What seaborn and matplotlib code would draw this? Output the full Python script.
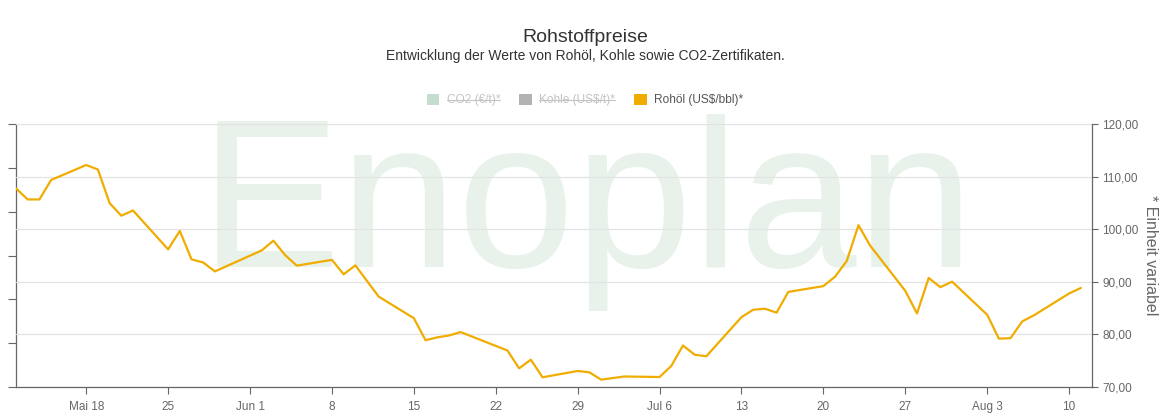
import pandas as pd
import seaborn as sns
import matplotlib.pyplot as plt
from matplotlib.patches import Patch
from matplotlib.lines import Line2D
from matplotlib.ticker import FuncFormatter

dates = [
    "2020-05-12", "2020-05-13", "2020-05-14", "2020-05-15",
    "2020-05-18", "2020-05-19", "2020-05-20", "2020-05-21", "2020-05-22",
    "2020-05-25", "2020-05-26", "2020-05-27", "2020-05-28", "2020-05-29",
    "2020-06-02", "2020-06-03", "2020-06-04", "2020-06-05",
    "2020-06-08", "2020-06-09", "2020-06-10", "2020-06-12",
    "2020-06-15", "2020-06-16", "2020-06-17", "2020-06-18", "2020-06-19",
    "2020-06-23", "2020-06-24", "2020-06-25", "2020-06-26",
    "2020-06-29", "2020-06-30", "2020-07-01", "2020-07-03",
    "2020-07-06", "2020-07-07", "2020-07-08", "2020-07-09", "2020-07-10",
    "2020-07-13", "2020-07-14", "2020-07-15", "2020-07-16", "2020-07-17",
    "2020-07-20", "2020-07-21", "2020-07-22", "2020-07-23", "2020-07-24",
    "2020-07-27", "2020-07-28", "2020-07-29", "2020-07-30", "2020-07-31",
    "2020-08-03", "2020-08-04", "2020-08-05", "2020-08-06", "2020-08-07",
    "2020-08-10", "2020-08-11",
]
rohoel = [
    107.8, 105.7, 105.7, 109.4,
    112.25, 111.4, 105.0, 102.6, 103.6,
    96.2, 99.7, 94.3, 93.7, 92.0,
    96.0, 97.85, 95.1, 93.1,
    94.2, 91.45, 93.15, 87.2,
    83.1, 78.9, 79.45, 79.8, 80.45,
    76.95, 73.55, 75.2, 71.85,
    73.05, 72.8, 71.4, 72.0,
    71.9, 74.0, 77.9, 76.15, 75.85,
    83.3, 84.7, 84.9, 84.15, 88.1,
    89.2, 91.0, 94.0, 100.8, 96.9,
    88.3, 84.0, 90.75, 89.0, 90.05,
    83.75, 79.2, 79.3, 82.5, 83.65,
    87.8, 88.85,
]

tick_dates = ["2020-05-18", "2020-05-25", "2020-06-01", "2020-06-08", "2020-06-15",
              "2020-06-22", "2020-06-29", "2020-07-06", "2020-07-13", "2020-07-20",
              "2020-07-27", "2020-08-03", "2020-08-10"]
tick_labels = ["Mai 18", "25", "Jun 1", "8", "15", "22", "29",
               "Jul 6", "13", "20", "27", "Aug 3", "10"]
y_ticks = [70, 80, 90, 100, 110, 120]

legend_labels = ["CO2 (€/t)*", "Kohle (US$/t)*", "Rohöl (US$/bbl)*"]
legend_colors = ["#c4ddd0", "#b3b3b3", "#f0ad00"]
legend_hidden = [True, True, False]

df = pd.DataFrame({"Datum": pd.to_datetime(dates), "Rohöl": rohoel})

sns.set_theme(style="white")
plt.rcParams["font.family"] = ["Liberation Sans", "DejaVu Sans"]

W, H = 1170, 420
fig = plt.figure(figsize=(W / 100, H / 100), dpi=100)
ax = fig.add_axes([16 / W, 33 / H, (1092.5 - 16) / W, (387 - 124.3) / H])
ax.patch.set_alpha(0)

# Wasserzeichen
fig.text(587 / W, (H - 267) / H, "Enoplan", fontsize=152, color="#e8f2ea",
         ha="center", va="baseline", zorder=-1)

sns.lineplot(data=df, x="Datum", y="Rohöl", ax=ax, color="#f0ad00", linewidth=1.6)

ax.set_xlim(pd.Timestamp("2020-05-12"), pd.Timestamp("2020-08-12"))
ax.set_ylim(70, 120)
ax.set_xticks(pd.to_datetime(tick_dates))
ax.set_xticklabels(tick_labels)
ax.set_yticks(y_ticks)
ax.yaxis.tick_right()
ax.yaxis.set_label_position("right")
ax.yaxis.set_major_formatter(FuncFormatter(lambda v, _: f"{v:.2f}".replace(".", ",")))
ax.set_xlabel("")
ax.set_ylabel("* Einheit variabel", rotation=270, labelpad=14, color="#666666", fontsize=11.5)

ax.grid(axis="y", color="#e3e3e3", linewidth=0.9)
ax.grid(axis="x", visible=False)
for side in ["top", "left"]:
    ax.spines[side].set_visible(False)
for side in ["bottom", "right"]:
    ax.spines[side].set_color("#666666")
    ax.spines[side].set_linewidth(0.9)
ax.tick_params(axis="x", colors="#666666", labelcolor="#666666", labelsize=8.5,
               length=5, width=0.8, direction="out", bottom=True, pad=5)
ax.tick_params(axis="y", colors="#666666", labelcolor="#666666", labelsize=8.5,
               length=4, width=0.8, direction="out", right=True, left=False, pad=3)

# linke Achse (ausgeblendete Reihen) nur mit Strichen
sec = ax.secondary_yaxis("left", functions=(lambda y: (y - 70) / 50 * 6,
                                            lambda v: 70 + v / 6 * 50))
sec.set_yticks(range(7))
sec.set_yticklabels([])
sec.spines["left"].set_color("#666666")
sec.spines["left"].set_linewidth(0.9)
sec.tick_params(axis="y", colors="#666666", length=6, width=0.8, direction="out")

# Titel
fig.text(0.5, (H - 38) / H, "Rohstoffpreise", ha="center", va="center",
         fontsize=14, color="#333333")
fig.text(0.5, (H - 56) / H, "Entwicklung der Werte von Rohöl, Kohle sowie CO2-Zertifikaten.",
         ha="center", va="center", fontsize=10, color="#333333")

# Legende
handles = [Patch(facecolor=c, edgecolor="none") for c in legend_colors]
leg = fig.legend(handles, legend_labels, loc="center", bbox_to_anchor=(0.5, (H - 100) / H),
                 ncol=3, frameon=False, fontsize=8.6, handlelength=1.05, handleheight=1.05,
                 handletextpad=0.6, columnspacing=1.6)
for txt, hidden in zip(leg.get_texts(), legend_hidden):
    txt.set_color("#c4c4c4" if hidden else "#555555")

# Durchstreichen der ausgeblendeten Legendeneinträge
fig.canvas.draw()
inv = fig.transFigure.inverted()
for txt, hidden in zip(leg.get_texts(), legend_hidden):
    if not hidden:
        continue
    bb = txt.get_window_extent()
    ymid = bb.y0 + bb.height * 0.5
    (x0, y0), (x1, _) = inv.transform([(bb.x0, ymid), (bb.x1, ymid)])
    fig.add_artist(Line2D([x0, x1], [y0, y0], transform=fig.transFigure,
                          color="#c4c4c4", linewidth=0.8))

fig.savefig("out.png", dpi=100)
